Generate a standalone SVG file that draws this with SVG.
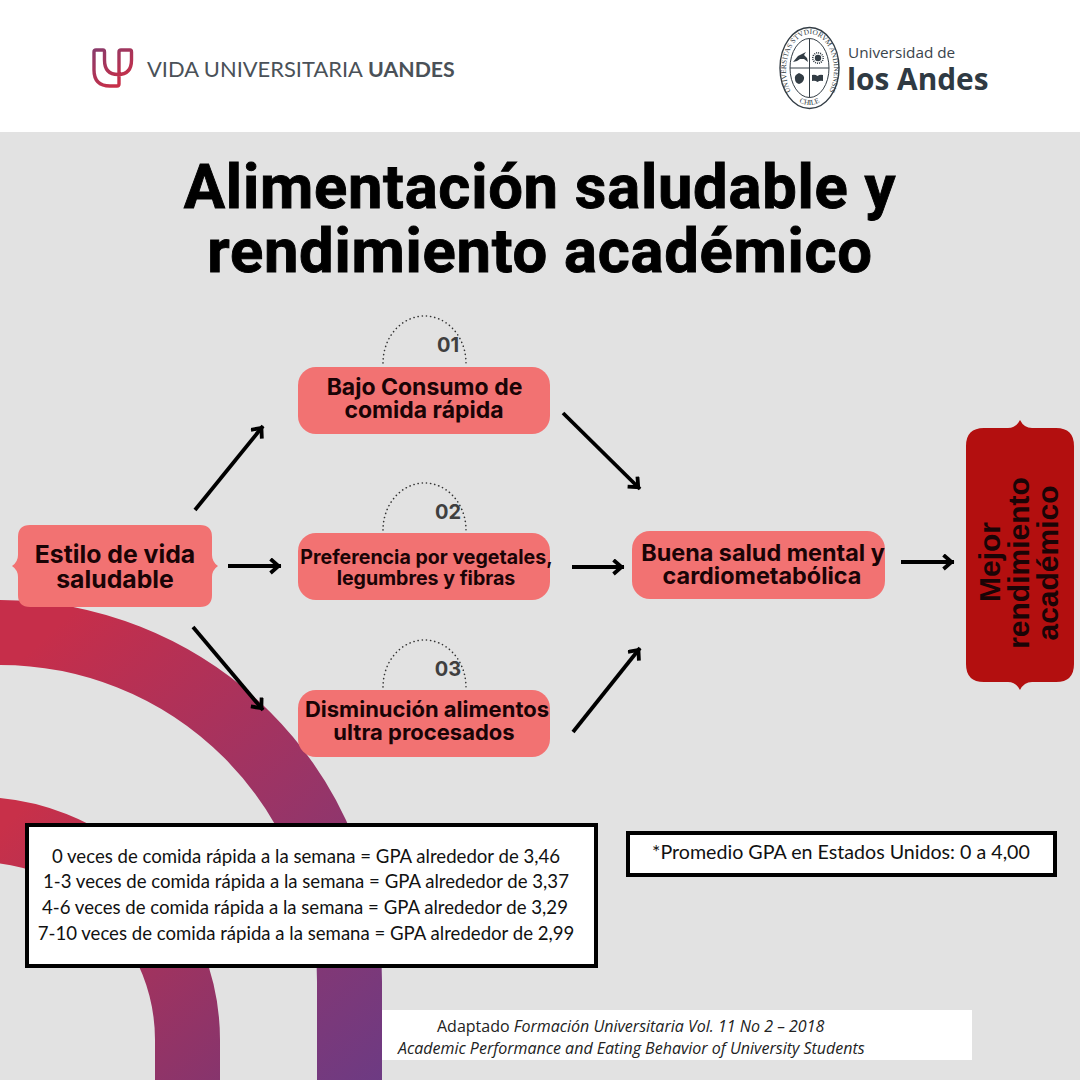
<svg xmlns="http://www.w3.org/2000/svg" width="1080" height="1080" viewBox="0 0 1080 1080">
<style>
.node{fill:#f27272}
.nt{font-family:"Inter","Liberation Sans",sans-serif;font-weight:700;fill:#1a0406;text-anchor:middle}
.num{font-family:"Inter","Liberation Sans",sans-serif;font-weight:700;font-size:20px;fill:#3f3f3f;text-anchor:middle}
.dot{fill:none;stroke:#333;stroke-width:1.6;stroke-dasharray:.1 4.1;stroke-linecap:round}
.title{font-family:"Roboto","Liberation Sans",sans-serif;font-weight:700;font-size:61.5px;letter-spacing:.75px;fill:#000;stroke:#000;stroke-width:.9px;text-anchor:middle}
.box{fill:#fff;stroke:#000;stroke-width:4}
.bt{font-family:"Lato","Liberation Sans",sans-serif;font-size:18.6px;fill:#111;text-anchor:middle}
.ft{font-family:"Open Sans","Liberation Sans",sans-serif;font-size:16px;fill:#222}
.arrow{fill:none;stroke:#000;stroke-width:3.8;marker-end:url(#ah)}
.seal{fill:none;stroke:#333d45}
.sealt{font-family:"Liberation Serif",serif;fill:#333d45}
.si{fill:#333d45}
</style>
<defs>
<linearGradient id="rg" gradientUnits="userSpaceOnUse" x1="20" y1="660" x2="400" y2="1080"><stop offset="0" stop-color="#c62e4a"/><stop offset="1" stop-color="#6b3b84"/></linearGradient>
<linearGradient id="rg2" gradientUnits="userSpaceOnUse" x1="0" y1="830" x2="240" y2="1085"><stop offset="0" stop-color="#c83049"/><stop offset="1" stop-color="#83356f"/></linearGradient>
<linearGradient id="lg" x1="0" y1="0" x2="0.6" y2="1"><stop offset="0" stop-color="#8a3a6a"/><stop offset="1" stop-color="#c92f48"/></linearGradient>
<marker id="ah" markerUnits="userSpaceOnUse" markerWidth="20" markerHeight="20" refX="14.5" refY="8" orient="auto"><path d="M4 1 L12 8 L4 15" fill="none" stroke="#000" stroke-width="3.8"/></marker>
<path id="sealArc" d="M790 90 A24 36 0 1 1 830 90"/>
<path id="sealLow" d="M785.2 84 A27 37 0 0 0 833.8 84"/>
</defs>
<rect width="1080" height="1080" fill="#e2e2e2"/>
<rect width="1080" height="132" fill="#fff"/>
<g id="rings" fill="none" stroke-width="65">
<path stroke="url(#rg)" d="M0 632.5 A349.5 349.5 0 0 1 349.5 982 V1080"/>
<path stroke="url(#rg2)" d="M-23 829.5 A210.5 210.5 0 0 1 187.5 1040 V1080"/>
</g>
<g id="logo-vida">
<path d="M119 52 V84 Q119 86 117 86 H110 Q94 86 94 70 V52 Q94 50 96 50 H103 Q104.500 50 104.500 52 V60 Q104.500 74.500 118 74.500 Q131.500 74.500 131.500 60 V52 Q131.500 50 130 50 H121 Q119 50 119 52Z" fill="none" stroke="url(#lg)" stroke-width="3.4" stroke-linejoin="round"/>
<text x="147" y="77" font-family="Lato,sans-serif" font-size="21.900px" fill="#4a5158">VIDA UNIVERSITARIA</text>
<text x="368" y="77" font-family="Lato,sans-serif" font-weight="700" font-size="21.300px" fill="#4a5158">UANDES</text>
</g>
<g id="logo-andes">
<ellipse class="seal" cx="809.500" cy="68" rx="29.500" ry="40.500" stroke-width="1.4"/>
<ellipse class="seal" cx="809.500" cy="68" rx="19.500" ry="29.500" stroke-width="1"/>
<path class="seal" d="M809.500 38.500 V97.500 M790 68 H829" stroke-width="1"/>
<text class="sealt" font-size="7.400px"><textPath href="#sealArc" startOffset="50%" text-anchor="middle">UNIVERSITAS STVDIORVM ANDINENSIS</textPath></text>
<text class="sealt" font-size="7.400px"><textPath href="#sealLow" startOffset="50%" text-anchor="middle">CHILE</textPath></text>
<path class="si" d="M793 62 L798 56 L802 54 L806 52 L804 55 L807 58 L808 62 L804 59 L800 59 L797 61Z"/>
<circle class="si" cx="818" cy="58" r="3.200"/>
<circle cx="818" cy="58" r="5.200" fill="none" stroke="#333d45" stroke-width="1.600" stroke-dasharray="1 1"/>
<path class="si" d="M799 73 Q805 75 804 79 Q803 83 799 84 Q795 83 795 79 Q794 75 799 73Z"/>
<path class="si" d="M812 75 Q815 74 817.500 76 Q820 74 823 75 V81 Q820 80 817.500 82 Q815 80 812 81Z"/>
<text x="848" y="58" font-family="'Open Sans',sans-serif" font-size="15.300px" fill="#3a444c">Universidad de</text>
<text x="847" y="90" font-family="'Open Sans',sans-serif" font-weight="700" font-size="29.800px" fill="#2f3a43">los Andes</text>
</g>
<g id="title">
<text class="title" x="540" y="208">Alimentación saludable y</text>
<text class="title" x="540" y="272">rendimiento académico</text>
</g>
<g id="connectors">
<line class="arrow" x1="195" y1="510" x2="263" y2="426"/>
<line class="arrow" x1="228" y1="566" x2="281" y2="566"/>
<line class="arrow" x1="193" y1="627" x2="263" y2="710"/>
<line class="arrow" x1="563" y1="413" x2="640" y2="489"/>
<line class="arrow" x1="572" y1="567" x2="624" y2="567"/>
<line class="arrow" x1="573" y1="732" x2="640" y2="648"/>
<line class="arrow" x1="901" y1="562" x2="954" y2="562"/>
</g>
<g id="node-estilo">
<path class="node" d="M30 525 H200 Q212 525 212 537 V555 Q212 562 218 566 Q212 570 212 577 V595 Q212 607 200 607 H30 Q18 607 18 595 V577 Q18 570 12 566 Q18 562 18 555 V537 Q18 525 30 525Z"/>
<text class="nt" font-size="24.800px" x="115" y="563">Estilo de vida</text>
<text class="nt" font-size="24.800px" x="115" y="588">saludable</text>
</g>
<g id="node-01">
<path class="dot" d="M383 363 A41.500 47 0 0 1 466 363"/>
<text class="num" x="448" y="352">01</text>
<rect class="node" x="298" y="367" width="252" height="67" rx="18"/>
<text class="nt" font-size="23px" x="424.500" y="395">Bajo Consumo de</text>
<text class="nt" font-size="23px" x="424" y="418">comida rápida</text>
</g>
<g id="node-02">
<path class="dot" d="M383 530 A41.500 47 0 0 1 466 530"/>
<text class="num" x="448" y="519">02</text>
<rect class="node" x="298" y="533" width="252" height="67" rx="18"/>
<text class="nt" font-size="19.600px" x="426.500" y="564">Preferencia por vegetales,</text>
<text class="nt" font-size="19.600px" x="426" y="585">legumbres y fibras</text>
</g>
<g id="node-03">
<path class="dot" d="M383 687 A41.500 47 0 0 1 466 687"/>
<text class="num" x="448" y="676">03</text>
<rect class="node" x="298" y="690" width="252" height="67" rx="18"/>
<text class="nt" font-size="22px" x="427" y="717">Disminución alimentos</text>
<text class="nt" font-size="22px" x="424" y="740">ultra procesados</text>
</g>
<g id="node-salud">
<rect class="node" x="632" y="531" width="253" height="68" rx="18"/>
<text class="nt" font-size="23.400px" x="763" y="561">Buena salud mental y</text>
<text class="nt" font-size="23.400px" x="762" y="584">cardiometabólica</text>
</g>
<g id="node-mejor">
<path d="M984 428 H1008 Q1016 428 1020 420 Q1024 428 1032 428 H1056 Q1074 428 1074 446 V664 Q1074 682 1056 682 H1032 Q1024 682 1020 690 Q1016 682 1008 682 H984 Q966 682 966 664 V446 Q966 428 984 428Z" fill="#b30f0f"/>
<g font-family="'Liberation Sans',sans-serif" font-weight="700" font-size="30px" fill="#1a0406" text-anchor="middle">
<text transform="translate(1000 562) rotate(-90)">Mejor</text>
<text transform="translate(1029 563) rotate(-90)">rendimiento</text>
<text transform="translate(1058 563) rotate(-90)">académico</text>
</g>
</g>
<g id="note-gpa">
<rect class="box" x="27" y="825" width="569" height="141"/>
<text class="bt" x="306" y="863">0 veces de comida rápida a la semana = GPA alrededor de 3,46</text>
<text class="bt" x="306" y="888">1-3 veces de comida rápida a la semana = GPA alrededor de 3,37</text>
<text class="bt" x="305" y="914">4-6 veces de comida rápida a la semana = GPA alrededor de 3,29</text>
<text class="bt" x="306" y="940">7-10 veces de comida rápida a la semana = GPA alrededor de 2,99</text>
</g>
<g id="note-promedio">
<rect class="box" x="628" y="833" width="427" height="42"/>
<text class="bt" style="font-size:19.650px" x="841" y="859">*Promedio GPA en Estados Unidos: 0 a 4,00</text>
</g>
<g id="source">
<rect x="382" y="1010" width="590" height="50" fill="#fff"/>
<text class="ft" x="437" y="1032">Adaptado <tspan font-style="italic">Formación Universitaria Vol. 11 No 2 – 2018</tspan></text>
<text class="ft" x="398" y="1054" font-style="italic">Academic Performance and Eating Behavior of University Students</text>
</g>
</svg>
